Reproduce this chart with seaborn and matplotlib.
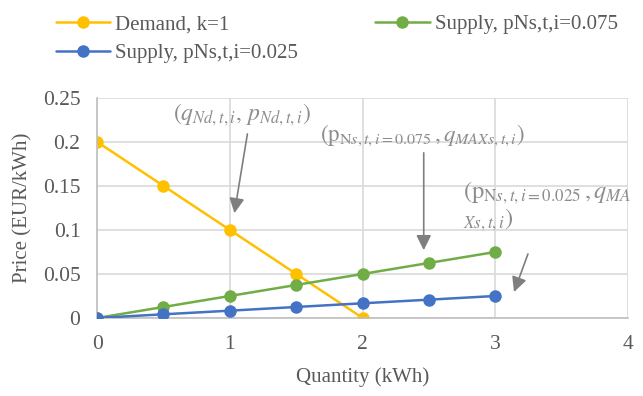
import numpy as np
import pandas as pd
import seaborn as sns
import matplotlib.pyplot as plt
from matplotlib.ticker import FuncFormatter

# data
q_demand = [0, 0.5, 1, 1.5, 2]
p_demand = [0.2, 0.15, 0.1, 0.05, 0]
q_supply = [0, 0.5, 1, 1.5, 2, 2.5, 3]
p_supply_075 = [0, 0.0125, 0.025, 0.0375, 0.05, 0.0625, 0.075]
p_supply_025 = [0, 0.0042, 0.0083, 0.0125, 0.0167, 0.0208, 0.025]

labels = ["Demand, k=1", "Supply, pNs,t,i=0.025", "Supply, pNs,t,i=0.075"]
colors = ["#FFC000", "#4472C4", "#70AD47"]

df = pd.concat([
    pd.DataFrame({"q": q_demand, "p": p_demand, "series": labels[0]}),
    pd.DataFrame({"q": q_supply, "p": p_supply_025, "series": labels[1]}),
    pd.DataFrame({"q": q_supply, "p": p_supply_075, "series": labels[2]}),
])

sns.set_style("white")
plt.rcParams['font.family'] = ['Liberation Serif', 'DejaVu Serif']
plt.rcParams['mathtext.fontset'] = 'stix'

fig = plt.figure(figsize=(6.43, 3.96), dpi=100)
ax = fig.add_axes([0.151, 0.197, 0.826, 0.556])

ax.grid(True, color="#D9D9D9", lw=1.2)
ax.set_axisbelow(True)

sns.lineplot(data=df, x="q", y="p", hue="series", palette=colors,
             hue_order=labels, marker="o", markersize=9, markeredgewidth=0,
             linewidth=1.8, ax=ax, sort=False, estimator=None)
for line in ax.lines:
    if line.get_color() == "#4472C4":
        line.set_zorder(3)

ax.set_xlim(0, 4)
ax.set_ylim(0, 0.25)
ax.set_xticks([0, 1, 2, 3, 4])
ax.set_yticks([0, 0.05, 0.1, 0.15, 0.2, 0.25])
ax.yaxis.set_major_formatter(FuncFormatter(lambda v, pos: f"{v:g}"))
ax.tick_params(axis="both", length=0, labelsize=15.5, labelcolor="#595959")
ax.tick_params(axis="x", pad=12)
ax.tick_params(axis="y", pad=12)
ax.set_xlabel("Quantity (kWh)", fontsize=15, color="#595959", labelpad=10)
ax.set_ylabel("Price (EUR/kWh)", fontsize=15, color="#595959", labelpad=7)

for s in ["top", "right"]:
    ax.spines[s].set_visible(False)
for s in ["left", "bottom"]:
    ax.spines[s].set_color("#BFBFBF")
    ax.spines[s].set_linewidth(1.2)

ax.legend_.remove()
handles, lbls = ax.get_legend_handles_labels()
fig.legend(handles, lbls, loc="upper left", bbox_to_anchor=(0.058, 1.01),
           ncol=2, frameon=False, fontsize=15, labelcolor="#595959",
           handlelength=2.6, handletextpad=0.25, columnspacing=3.7,
           labelspacing=0.45)

tc = "#8C8C8C"
ac = "#7F7F7F"
arrow = dict(arrowstyle="-|>,head_length=0.9,head_width=0.45", color=ac, lw=1.2,
             shrinkA=0, shrinkB=0)

# annotation 1: demand point
ax.annotate("", xy=(1.034, 0.119), xytext=(1.132, 0.209), arrowprops=arrow)
ax.text(0.574, 0.231, r"$(q_{Nd,t,i},\, p_{Nd,t,i})$", fontsize=17, color=tc,
        va="center", ha="left")

# annotation 2: supply 0.075 max point
ax.annotate("", xy=(2.46, 0.077), xytext=(2.46, 0.1875), arrowprops=arrow)
ax.text(1.68, 0.208, r"$(\mathrm{p}_{\mathrm{N}s,t,i=0.075}\,,q_{MAXs,t,i})$",
        fontsize=16.5, color=tc, va="center", ha="left")

# annotation 3: supply 0.025 max point (wrapped label)
ax.annotate("", xy=(3.14, 0.0295), xytext=(3.245, 0.0727), arrowprops=arrow)
ax.text(2.755, 0.142, r"$(\mathrm{p}_{\mathrm{N}s,t,i=0.025}\,,q_{MA}$",
        fontsize=17.5, color=tc, va="center", ha="left")
ax.text(2.755, 0.112, r"${}_{Xs,t,i})$", fontsize=17.5, color=tc,
        va="center", ha="left")

fig.savefig("out.png", dpi=100)
